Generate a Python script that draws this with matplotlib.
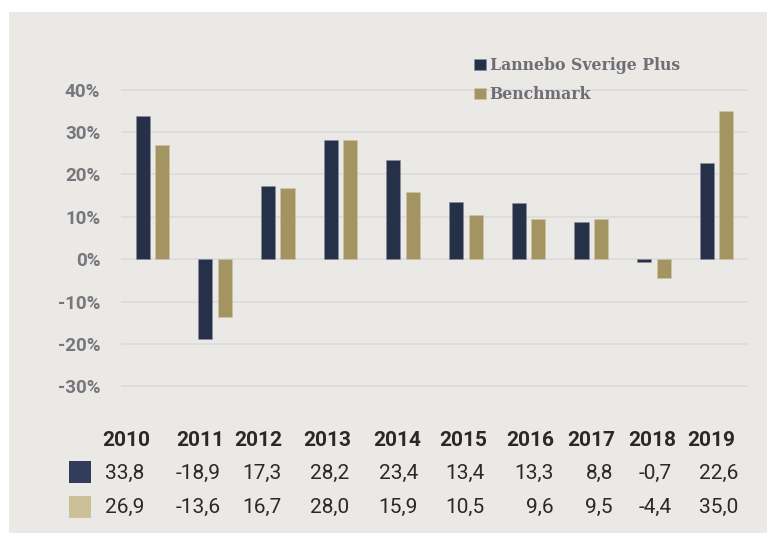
import matplotlib.pyplot as plt
from matplotlib.patches import Rectangle
import numpy as np

# data
years = ['2010', '2011', '2012', '2013', '2014', '2015', '2016', '2017', '2018', '2019']
fund = [33.8, -18.9, 17.3, 28.2, 23.4, 13.4, 13.3, 8.8, -0.7, 22.6]
bench = [26.9, -13.6, 16.7, 28.0, 15.9, 10.5, 9.6, 9.5, -4.4, 35.0]
fund_txt = ['33,8', '-18,9', '17,3', '28,2', '23,4', '13,4', '13,3', '8,8', '-0,7', '22,6']
bench_txt = ['26,9', '-13,6', '16,7', '28,0', '15,9', '10,5', '9,6', '9,5', '-4,4', '35,0']
yticks = [-30, -20, -10, 0, 10, 20, 30, 40]

NAVY = '#263048'
KHAKI = '#a39462'
BG = '#ebe9e6'
GREY_TXT = '#6f6e75'
DARK_TXT = '#2a2828'

W, H = 767, 533
fig = plt.figure(figsize=(W / 100, H / 100), dpi=100)
fig.patch.set_facecolor('white')

# grey panel (behind the axes)
fig.patches.append(Rectangle((9 / W, 0), 1 - 9 / W, 1 - 12 / H, transform=fig.transFigure,
                             facecolor=BG, edgecolor='none', zorder=-5))

ax = fig.add_axes([121 / W, 1 - 400 / H, (748 - 121) / W, 360 / H])
ax.set_facecolor('none')
x = np.arange(len(years))
b1 = ax.bar(x - 0.155, fund, width=0.225, color=NAVY, edgecolor='#8a8f9c', linewidth=0.4,
            label='Lannebo Sverige Plus', zorder=3)
b2 = ax.bar(x + 0.155, bench, width=0.225, color=KHAKI, edgecolor='#cfc6a6', linewidth=0.4,
            label='Benchmark', zorder=3)

ax.set_xlim(-0.5, 9.5)
ax.set_ylim(-33.2, 51.7)
ax.set_yticks(yticks)
ax.set_yticklabels([f'{t}%' for t in yticks])
ax.set_xticks([])
ax.grid(axis='y', color='#dcdadc', linewidth=1.2, zorder=0)
ax.set_axisbelow(True)
ax.tick_params(axis='y', length=0, pad=15, labelsize=13.5, labelcolor='#77767c')
for lbl in ax.get_yticklabels():
    lbl.set_fontfamily('Roboto')
    lbl.set_fontweight('bold')
for s in ax.spines.values():
    s.set_visible(False)

leg = ax.legend(handles=[b1, b2], loc='upper left', bbox_to_anchor=(466 / W, 1 - 49 / H),
                bbox_transform=fig.transFigure, frameon=False, handlelength=0.75, handleheight=0.75,
                handletextpad=0.25, labelspacing=0.78, borderpad=0,
                prop={'family': 'DejaVu Serif', 'weight': 'bold', 'size': 11.3})
for t in leg.get_texts():
    t.set_color(GREY_TXT)

# table below the chart
year_right = [150, 224, 282, 351, 421, 487, 554, 615, 676, 735]
val_right = [144, 221, 282, 349, 418, 485, 554, 613, 672, 738]
for i in range(len(years)):
    fig.text(year_right[i] / W, 1 - 440 / H, years[i], ha='right', va='center',
             family='Roboto', weight='bold', size=15, color=DARK_TXT)
    fig.text(val_right[i] / W, 1 - 473 / H, fund_txt[i], ha='right', va='center',
             family='Roboto', size=15, color=DARK_TXT)
    fig.text(val_right[i] / W, 1 - 507 / H, bench_txt[i], ha='right', va='center',
             family='Roboto', size=15, color=DARK_TXT)

fig.patches.append(Rectangle((69 / W, 1 - 483 / H), 22 / W, 22 / H, transform=fig.transFigure,
                             facecolor='#323c5a', edgecolor='none'))
fig.patches.append(Rectangle((69 / W, 1 - 518 / H), 22 / W, 22 / H, transform=fig.transFigure,
                             facecolor='#cdbf98', edgecolor='none'))

fig.savefig('out.png', dpi=100, facecolor='white')
